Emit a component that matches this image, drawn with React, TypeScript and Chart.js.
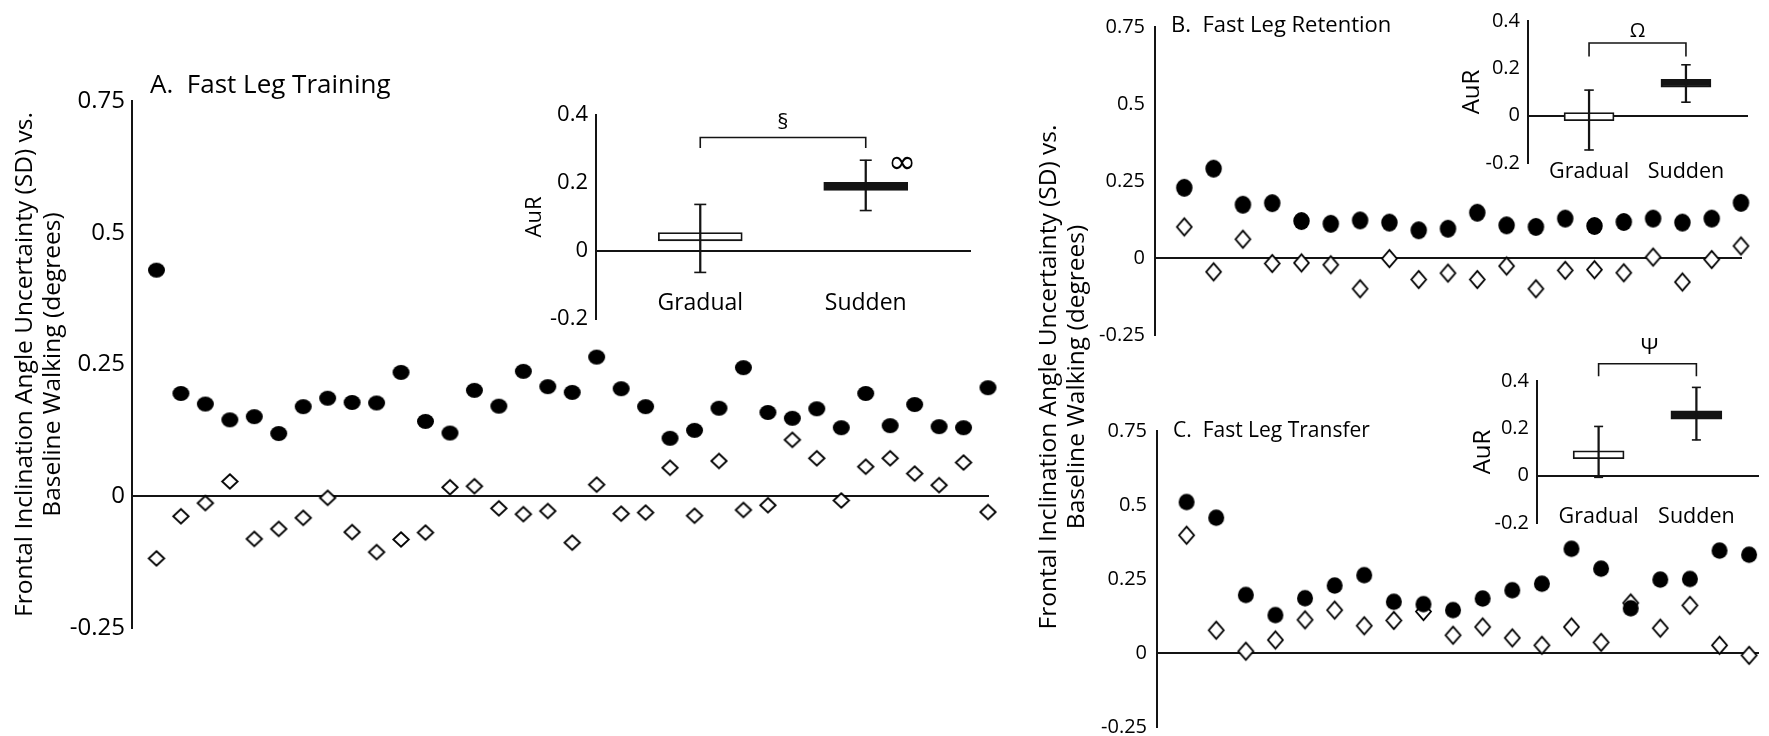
import React, { useEffect, useRef } from 'react';
import { Chart, registerables } from 'chart.js';

Chart.register(...registerables);

const FONT = '"Open Sans", "Noto Sans", "DejaVu Sans", sans-serif';
const INK = '#141414';

// ---------- Main panels: per-subject values (degrees) ----------
// Panel A: Fast Leg Training (35 subjects)
const A_SUDDEN = [0.429, 0.195, 0.175, 0.145, 0.151, 0.119, 0.170, 0.186, 0.178, 0.177, 0.235, 0.142, 0.120, 0.201, 0.171, 0.237, 0.208, 0.197, 0.264, 0.204, 0.170, 0.110, 0.125, 0.167, 0.244, 0.159, 0.148, 0.166, 0.130, 0.195, 0.134, 0.174, 0.132, 0.130, 0.206];
const A_GRADUAL = [-0.118, -0.038, -0.013, 0.028, -0.081, -0.062, -0.041, -0.003, -0.068, -0.106, -0.082, -0.069, 0.017, 0.019, -0.023, -0.034, -0.028, -0.088, 0.022, -0.033, -0.031, 0.054, -0.037, 0.067, -0.026, -0.017, 0.107, 0.072, -0.008, 0.056, 0.072, 0.043, 0.021, 0.064, -0.030];

// Panel B: Fast Leg Retention (20 subjects)
const B_SUDDEN = [0.228, 0.290, 0.173, 0.178, 0.120, 0.111, 0.122, 0.115, 0.090, 0.095, 0.147, 0.106, 0.101, 0.128, 0.104, 0.117, 0.128, 0.115, 0.128, 0.179];
const B_GRADUAL = [0.101, -0.045, 0.061, -0.018, -0.016, -0.022, -0.100, -0.002, -0.070, -0.049, -0.070, -0.026, -0.100, -0.040, -0.038, -0.048, 0.003, -0.078, -0.005, 0.039];

// Panel C: Fast Leg Transfer (20 subjects)
const C_SUDDEN = [0.510, 0.457, 0.196, 0.128, 0.185, 0.228, 0.263, 0.173, 0.165, 0.145, 0.184, 0.212, 0.234, 0.352, 0.285, 0.151, 0.248, 0.250, 0.346, 0.332];
const C_GRADUAL = [0.398, 0.077, 0.006, 0.044, 0.112, 0.145, 0.092, 0.110, 0.140, 0.060, 0.088, 0.051, 0.026, 0.088, 0.036, 0.169, 0.084, 0.161, 0.026, -0.008];

const MAIN_Y_TICKS = [-0.25, 0, 0.25, 0.5, 0.75];
const MAIN_Y_LABELS = ['-0.25', '0', '0.25', '0.5', '0.75'];

// ---------- Insets: AuR ----------
const GROUPS = ['Gradual', 'Sudden'];
const GROUP_X = [1, 2];
const INSET_Y_TICKS = [-0.2, 0, 0.2, 0.4];
const INSET_Y_LABELS = ['-0.2', '0', '0.2', '0.4'];

const A_BOX = [[0.030, 0.054], [0.178, 0.202]];
const A_WHISKER = [[-0.063, 0.137], [0.119, 0.267]];
const A_BRACKET = [0.303, 0.334];
const B_BOX = [[-0.021, 0.013], [0.120, 0.154]];
const B_WHISKER = [[-0.145, 0.108], [0.057, 0.215]];
const B_BRACKET = [0.250, 0.307];
const C_BOX = [[0.072, 0.105], [0.239, 0.274]];
const C_WHISKER = [[-0.007, 0.208], [0.151, 0.373]];
const C_BRACKET = [0.420, 0.473];

const TITLE_A = 'A.  Fast Leg Training';
const TITLE_B = 'B.  Fast Leg Retention';
const TITLE_C = 'C.  Fast Leg Transfer';
const Y_TITLE = ['Frontal Inclination Angle Uncertainty (SD) vs.', 'Baseline Walking (degrees)'];
const INSET_Y_TITLE = 'AuR';

// ---------- helpers ----------
function ellipseMarker(w: number, h: number) {
  const c = document.createElement('canvas');
  c.width = Math.ceil(w) + 2;
  c.height = Math.ceil(h) + 2;
  const g = c.getContext('2d')!;
  g.fillStyle = '#000';
  g.beginPath();
  g.ellipse(c.width / 2, c.height / 2, w / 2, h / 2, 0, 0, Math.PI * 2);
  g.fill();
  return c;
}

function diamondMarker(w: number, h: number, lw: number) {
  const c = document.createElement('canvas');
  c.width = Math.ceil(w + lw * 2) + 2;
  c.height = Math.ceil(h + lw * 2) + 2;
  const g = c.getContext('2d')!;
  const cx = c.width / 2;
  const cy = c.height / 2;
  g.beginPath();
  g.moveTo(cx, cy - h / 2);
  g.lineTo(cx + w / 2, cy);
  g.lineTo(cx, cy + h / 2);
  g.lineTo(cx - w / 2, cy);
  g.closePath();
  g.fillStyle = '#fff';
  g.fill();
  g.lineWidth = lw;
  g.strokeStyle = '#000';
  g.stroke();
  return c;
}

function clearPad(sc: any) {
  sc.paddingTop = 0;
  sc.paddingBottom = 0;
  sc.paddingLeft = 0;
  sc.paddingRight = 0;
}

type Pad = { top: number; right: number; bottom: number; left: number };

type MainSpec = {
  sudden: number[];
  gradual: number[];
  xMax: number;
  yWidth: number;
  padding: Pad;
  tickSize: number;
  tickPad: number;
  circle: [number, number];
  diamond: [number, number];
  yTitle?: string[];
};

function mainConfig(s: MainSpec): any {
  const circle = ellipseMarker(s.circle[0], s.circle[1]);
  const diamond = diamondMarker(s.diamond[0], s.diamond[1], 1.8);
  return {
    type: 'scatter',
    data: {
      datasets: [
        { label: 'Sudden', data: s.sudden.map((v, i) => ({ x: i + 1, y: v })), pointStyle: circle, pointRadius: 8, clip: false },
        { label: 'Gradual', data: s.gradual.map((v, i) => ({ x: i + 1, y: v })), pointStyle: diamond, pointRadius: 8, clip: false },
      ],
    },
    options: {
      animation: false,
      responsive: false,
      events: [],
      layout: { padding: s.padding },
      plugins: { legend: { display: false }, tooltip: { enabled: false } },
      scales: {
        x: {
          type: 'linear', min: 0, max: s.xMax, position: { y: 0 },
          grid: { display: false, drawTicks: false },
          border: { display: true, color: INK, width: 2 },
          ticks: { display: false },
          afterFit: (sc: any) => { sc.height = 0; clearPad(sc); },
        },
        y: {
          type: 'linear', min: -0.25, max: 0.75, position: 'left', bounds: 'data',
          grid: { display: false, drawTicks: false },
          border: { display: true, color: INK, width: 2 },
          afterBuildTicks: (sc: any) => { sc.ticks = MAIN_Y_TICKS.map((value) => ({ value })); },
          ticks: {
            callback: (_v: any, i: number) => MAIN_Y_LABELS[i],
            font: { family: FONT, size: s.tickSize }, color: '#000', padding: s.tickPad, autoSkip: false,
          },
          title: s.yTitle
            ? { display: true, text: s.yTitle, color: '#000', font: { family: FONT, size: 24.5, lineHeight: 28 / 24.5 }, padding: { top: 11, bottom: 0 } }
            : { display: false },
          afterFit: (sc: any) => { sc.width = s.yWidth; clearPad(sc); },
        },
      },
    },
  };
}

type Mark = { text: string; x: number; y: number; size: number; family?: string };

type InsetSpec = {
  box: number[][];
  whisker: number[][];
  bracket: number[];
  marks: Mark[];
  yWidth: number;
  padding: Pad;
  tickSize: number;
  titleSize: number;
  titlePad: number;
  labelSize: number;
  labelPad: number;
  boxWidth: number;
  cap: number;
};

function bracketPlugin(s: InsetSpec) {
  return {
    id: 'sigBracket',
    afterDatasetsDraw(chart: any) {
      const { ctx, scales } = chart;
      const x = scales.x;
      const y = scales.y;
      const x1 = x.getPixelForValue(GROUP_X[0]);
      const x2 = x.getPixelForValue(GROUP_X[1]);
      const yLeg = y.getPixelForValue(s.bracket[0]);
      const yTop = y.getPixelForValue(s.bracket[1]);
      ctx.save();
      ctx.strokeStyle = INK;
      ctx.lineWidth = 1.6;
      ctx.beginPath();
      ctx.moveTo(x1, yLeg);
      ctx.lineTo(x1, yTop);
      ctx.lineTo(x2, yTop);
      ctx.lineTo(x2, yLeg);
      ctx.stroke();
      ctx.fillStyle = '#000';
      ctx.textAlign = 'center';
      ctx.textBaseline = 'middle';
      for (const m of s.marks) {
        ctx.font = `${m.size}px ${m.family || FONT}`;
        ctx.fillText(m.text, x.getPixelForValue(m.x), y.getPixelForValue(m.y));
      }
      ctx.restore();
    },
  };
}

function insetConfig(s: InsetSpec): any {
  return {
    type: 'bar',
    data: {
      datasets: [
        {
          type: 'bar', label: 'range', data: GROUP_X.map((x, i) => ({ x, y: s.whisker[i] })),
          barThickness: 1.6, backgroundColor: INK, borderWidth: 0, grouped: false,
        },
        {
          type: 'scatter', label: 'caps',
          data: GROUP_X.flatMap((x, i) => [{ x, y: s.whisker[i][0] }, { x, y: s.whisker[i][1] }]),
          pointStyle: 'line', pointRadius: s.cap / 2, pointBorderWidth: 1.6, pointBorderColor: INK, borderColor: INK, clip: false,
        },
        {
          type: 'bar', label: 'mean', data: GROUP_X.map((x, i) => ({ x, y: s.box[i] })),
          barThickness: s.boxWidth, backgroundColor: ['#ffffff', INK], borderColor: INK, borderWidth: 1.8,
          borderSkipped: false, grouped: false,
        },
      ],
    },
    options: {
      animation: false,
      responsive: false,
      events: [],
      layout: { padding: s.padding },
      plugins: { legend: { display: false }, tooltip: { enabled: false } },
      scales: {
        x: {
          type: 'linear', min: 0.37, max: 2.63, offset: false, position: { y: 0 }, bounds: 'data',
          grid: { display: false, drawTicks: false },
          border: { display: true, color: INK, width: 2 },
          afterBuildTicks: (sc: any) => { sc.ticks = GROUP_X.map((value) => ({ value })); },
          ticks: {
            callback: (_v: any, i: number) => GROUPS[i],
            font: { family: FONT, size: s.labelSize }, color: '#000', padding: s.labelPad,
            autoSkip: false, maxRotation: 0,
          },
          afterFit: (sc: any) => { sc.height = 0; clearPad(sc); },
        },
        y: {
          type: 'linear', min: -0.2, max: 0.4, position: 'left', bounds: 'data',
          grid: { display: false, drawTicks: false },
          border: { display: true, color: INK, width: 2 },
          afterBuildTicks: (sc: any) => { sc.ticks = INSET_Y_TICKS.map((value) => ({ value })); },
          ticks: {
            callback: (_v: any, i: number) => INSET_Y_LABELS[i],
            font: { family: FONT, size: s.tickSize }, color: '#000', padding: 8, autoSkip: false,
          },
          title: {
            display: true, text: INSET_Y_TITLE, color: '#000',
            font: { family: FONT, size: s.titleSize }, padding: { top: s.titlePad, bottom: 0 },
          },
          afterFit: (sc: any) => { sc.width = s.yWidth; clearPad(sc); },
        },
      },
    },
    plugins: [bracketPlugin(s)],
  };
}

function ChartCanvas(props: { left: number; top: number; width: number; height: number; make: () => any }) {
  const ref = useRef<HTMLCanvasElement>(null);
  useEffect(() => {
    const chart = new Chart(ref.current as HTMLCanvasElement, props.make());
    return () => chart.destroy();
  }, []);
  return (
    <canvas
      ref={ref}
      width={props.width}
      height={props.height}
      style={{ position: 'absolute', left: props.left, top: props.top, width: props.width, height: props.height }}
    />
  );
}

const textBase: React.CSSProperties = {
  position: 'absolute',
  fontFamily: FONT,
  color: '#000',
  whiteSpace: 'pre',
  margin: 0,
};

export default function App() {
  return (
    <div style={{ position: 'absolute', left: 0, top: 0, width: 1769, height: 736, background: '#fff', overflow: 'hidden' }}>
      <ChartCanvas
        left={0} top={0} width={1000} height={660}
        make={() => mainConfig({
          sudden: A_SUDDEN, gradual: A_GRADUAL, xMax: 35, yWidth: 132,
          padding: { left: 0, top: 101, right: 12, bottom: 32 },
          tickSize: 24, tickPad: 7, circle: [17, 15], diamond: [15.5, 14.5], yTitle: Y_TITLE,
        })}
      />
      <ChartCanvas
        left={960} top={0} width={809} height={350}
        make={() => mainConfig({
          sudden: B_SUDDEN, gradual: B_GRADUAL, xMax: 20, yWidth: 195,
          padding: { left: 0, top: 27, right: 28, bottom: 15 },
          tickSize: 20, tickPad: 10, circle: [16.5, 18], diamond: [14.8, 17.2],
        })}
      />
      <ChartCanvas
        left={960} top={378} width={809} height={358}
        make={() => mainConfig({
          sudden: C_SUDDEN, gradual: C_GRADUAL, xMax: 20.3, yWidth: 197,
          padding: { left: 0, top: 53, right: 11, bottom: 9 },
          tickSize: 20, tickPad: 10, circle: [16, 16.5], diamond: [15, 17.4],
        })}
      />
      <ChartCanvas
        left={500} top={80} width={490} height={260}
        make={() => insetConfig({
          box: A_BOX, whisker: A_WHISKER, bracket: A_BRACKET,
          marks: [
            { text: '§', x: 1.5, y: 0.378, size: 22 },
            { text: '∞', x: 2.22, y: 0.255, size: 34, family: '"DejaVu Sans", sans-serif' },
          ],
          yWidth: 96, padding: { left: 0, top: 35, right: 20, bottom: 21 },
          tickSize: 22, titleSize: 22, titlePad: 21.8, labelSize: 23, labelPad: 39, boxWidth: 84, cap: 12,
        })}
      />
      <ChartCanvas
        left={1420} top={0} width={349} height={195}
        make={() => insetConfig({
          box: B_BOX, whisker: B_WHISKER, bracket: B_BRACKET,
          marks: [{ text: 'Ω', x: 1.5, y: 0.356, size: 20 }],
          yWidth: 108, padding: { left: 0, top: 21, right: 22, bottom: 32 },
          tickSize: 20, titleSize: 24, titlePad: 37.3, labelSize: 21.5, labelPad: 43, boxWidth: 50, cap: 9.5,
        })}
      />
      <ChartCanvas
        left={1420} top={330} width={349} height={210}
        make={() => insetConfig({
          box: C_BOX, whisker: C_WHISKER, bracket: C_BRACKET,
          marks: [{ text: 'Ψ', x: 1.52, y: 0.54, size: 22 }],
          yWidth: 117, padding: { left: 0, top: 51, right: 11, bottom: 17 },
          tickSize: 20, titleSize: 24, titlePad: 48.9, labelSize: 21.5, labelPad: 28, boxWidth: 51, cap: 9,
        })}
      />
      <div style={{ ...textBase, left: 150, top: 68, fontSize: 26, lineHeight: '30px' }}>{TITLE_A}</div>
      <div style={{ ...textBase, left: 1171, top: 10, fontSize: 22, lineHeight: '26px' }}>{TITLE_B}</div>
      <div style={{ ...textBase, left: 1173, top: 416, fontSize: 21, lineHeight: '26px' }}>{TITLE_C}</div>
      <div
        style={{
          ...textBase,
          left: 1060.5 - 280, top: 377 - 28, width: 560, height: 56,
          fontSize: 24.5, lineHeight: '28px', textAlign: 'center',
          transform: 'rotate(-90deg)', transformOrigin: '50% 50%',
        }}
      >
        {Y_TITLE[0]}
        {'\n'}
        {Y_TITLE[1]}
      </div>
    </div>
  );
}
